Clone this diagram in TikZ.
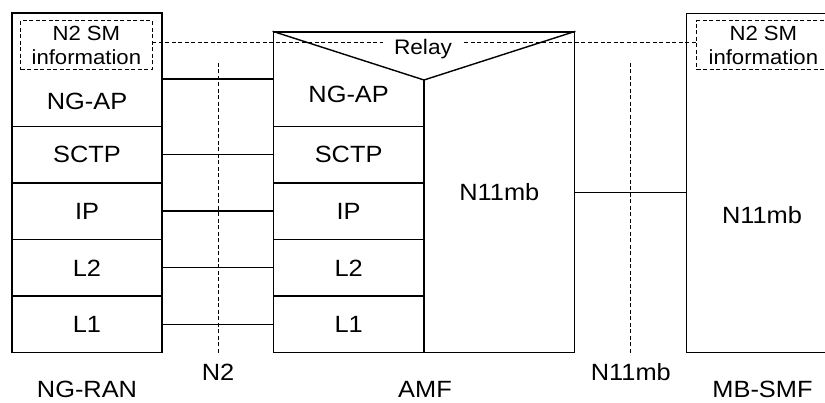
\documentclass[tikz,border=0pt]{standalone}
\usepackage{fontspec}
\setmainfont{Liberation Sans}
\newfontfamily\widesans[FakeStretch=1.08]{Liberation Sans}
\begin{document}
\begin{tikzpicture}[x=1pt,y=-1pt,
  box/.style={draw, line width=1.4pt, rectangle, inner sep=0pt, big},
  ghost/.style={rectangle, inner sep=0pt, big},
  big/.style={font=\widesans\fontsize{23.5}{28}\selectfont},
  small/.style={font=\widesans\fontsize{20.5}{24.3}\selectfont},
  lbl/.style={big, inner sep=0pt, anchor=base},
  dline/.style={line width=0.8pt, dash pattern=on 4pt off 2.5pt},
  dbox/.style={draw, dline, rectangle, inner sep=0pt, small, align=center, minimum width=131.3pt, minimum height=49pt},
  link/.style={line width=1.4pt}
]
\path[use as bounding box] (0,0) rectangle (825,403);
\clip (0,0) rectangle (825,403);

% NG-RAN stack
\node[box, minimum width=150pt, minimum height=113.3pt] (ranngap) at (87,69.65) {};
\node[box, minimum width=150pt, minimum height=56.6pt] (ransctp) at (87,154.6) {SCTP};
\node[box, minimum width=150pt, minimum height=56.6pt] (ranip) at (87,211.2) {IP};
\node[box, minimum width=150pt, minimum height=56.6pt] (ranl2) at (87,267.8) {L2};
\node[box, minimum width=150pt, minimum height=56.6pt] (ranl1) at (87,324.4) {L1};
\node[lbl] (ranngapt) at (87,110) {NG-AP};
\node[dbox] (n2l) at (86.35,45.2) {N2 SM\\information};

% AMF
\node[box, minimum width=301.4pt, minimum height=320.7pt] (amf) at (424,192.35) {};
\node[ghost, minimum width=150.7pt, minimum height=94.3pt] (amfngap) at (348.65,79.15) {};
\node[box, minimum width=150.7pt, minimum height=56.6pt] (amfsctp) at (348.65,154.6) {SCTP};
\node[box, minimum width=150.7pt, minimum height=56.6pt] (amfip) at (348.65,211.2) {IP};
\node[box, minimum width=150.7pt, minimum height=56.6pt] (amfl2) at (348.65,267.8) {L2};
\node[box, minimum width=150.7pt, minimum height=56.6pt] (amfl1) at (348.65,324.4) {L1};
\node[lbl] (amfngapt) at (348.65,103) {NG-AP};
\node[ghost, minimum width=150.7pt, minimum height=320.7pt] (amfn11) at (499.35,192.35) {N11mb};
\coordinate (apex) at (424,80);

% MB-SMF
\node[box, minimum width=153.3pt, minimum height=339.4pt] (mbsmf) at (763.35,183) {};
\node[dbox, minimum width=133.3pt] (n2r) at (763.35,45.2) {N2 SM\\information};
\node[lbl] (mbn11) at (762,223.3) {N11mb};

% relay dashed line and label
\draw[dline] ([yshift=2.5pt]n2l.east) -- ([yshift=2.5pt]n2r.west);
\node[font=\widesans\fontsize{21}{26}\selectfont, fill=white, inner xsep=11pt, inner ysep=2pt, anchor=base] (relay) at (423,55) {Relay};
\draw[line width=1.4pt] (amf.north west) -- (apex) -- (amf.north east);
\draw[line width=1.4pt] (apex) -- (apex |- amf.south);

% connectors
\draw[link] (ranngap.east |- amfngap.west) -- (amfngap.west);
\draw[link] (ransctp.east) -- (amfsctp.west);
\draw[link] (ranip.east) -- (amfip.west);
\draw[link] (ranl2.east) -- (amfl2.west);
\draw[link] (ranl1.east) -- (amfl1.west);
\draw[link] (amfn11.east) -- (mbsmf.west |- amfn11.east);

% interface reference points
\coordinate (n2top) at (218,63);
\coordinate (n11top) at (630.5,63);
\draw[dline] (n2top) -- (n2top |- ranl1.south);
\draw[dline] (n11top) -- (n11top |- amf.south);

% labels
\node[lbl] (n2lab) at (218,380.5) {N2};
\node[lbl] (n11lab) at (630.8,380.5) {N11mb};
\node[lbl] (ranlab) at (87,398) {NG-RAN};
\node[lbl] (amflab) at (425,398) {AMF};
\node[lbl] (mblab) at (762.5,398) {MB-SMF};
\end{tikzpicture}
\end{document}
